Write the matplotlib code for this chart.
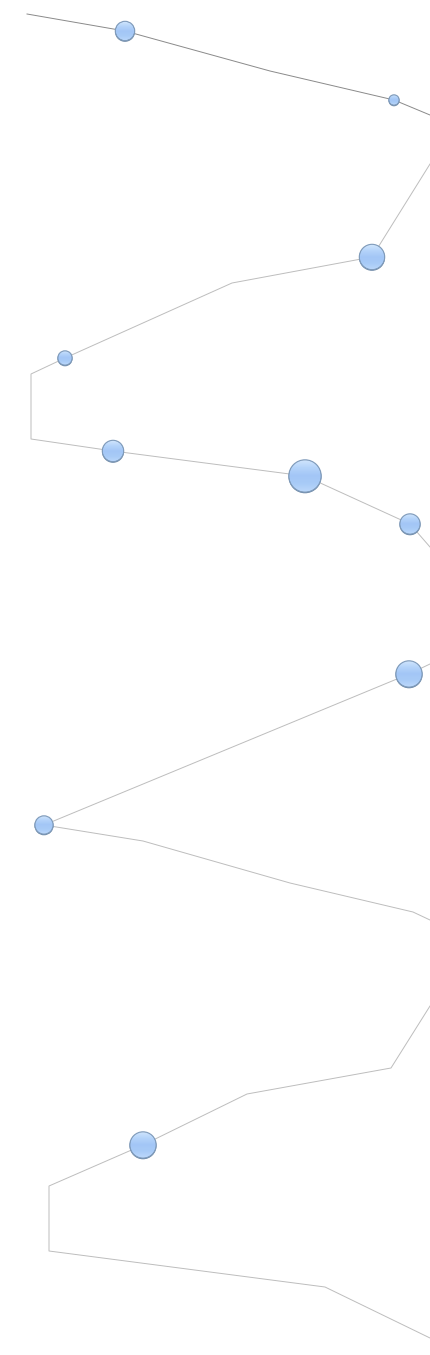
import numpy as np
import matplotlib
matplotlib.use('Agg')
import matplotlib.pyplot as plt
from matplotlib.patches import Circle
from matplotlib.colors import LinearSegmentedColormap

# path pieces of the winding line (x, y in page units, y grows downwards)
seg1_x = [27, 125, 270, 394, 430]
seg1_y = [14, 31, 71, 100, 115]
seg2_x = [430, 372, 232, 65, 31, 31, 113, 305, 410, 430]
seg2_y = [164, 257, 283, 358, 374, 439, 451, 476, 524, 547]
seg3_x = [430, 409, 44, 143, 290, 413, 430]
seg3_y = [664, 674, 825, 841, 883, 912, 920]
seg4_x = [430, 391, 247, 143, 49, 49, 325, 430]
seg4_y = [1006, 1068, 1094, 1145, 1186, 1251, 1287, 1338]

# bubbles sitting on the line
bubble_x = [125, 394, 372, 65, 113, 305, 410, 409, 44, 143]
bubble_y = [31, 100, 257, 358, 451, 476, 524, 674, 825, 1145]
bubble_size = [10, 5.5, 13, 7.5, 11, 16.5, 10.5, 13.5, 9.5, 13.5]

W, H = 430, 1355
fig = plt.figure(figsize=(W / 100, H / 100), dpi=100)
ax = fig.add_axes([0, 0, 1, 1])
ax.axis('off')

ax.plot(seg1_x, seg1_y, color='#8a8a8a', lw=0.7, zorder=1)
for sx, sy in [(seg2_x, seg2_y), (seg3_x, seg3_y), (seg4_x, seg4_y)]:
    ax.plot(sx, sy, color='#bdbdbd', lw=0.7, zorder=1)

cmap = LinearSegmentedColormap.from_list(
    'bub', ['#d3e7fd', '#b5d4fa', '#a3c6f6', '#a8cbf7', '#bcd8fb'])
grad = np.linspace(0, 1, 64).reshape(-1, 1)

for x, y, r in zip(bubble_x, bubble_y, bubble_size):
    shadow = Circle((x, y + 0.8), r, facecolor='#6d87a3', edgecolor='none', zorder=2)
    ax.add_patch(shadow)
    clip = Circle((x, y), r - 0.6, transform=ax.transData)
    im = ax.imshow(grad, cmap=cmap, extent=[x - r, x + r, y + r, y - r],
                   aspect='auto', interpolation='bilinear', zorder=3)
    im.set_clip_path(clip)
    ax.add_patch(Circle((x, y), r - 0.3, facecolor='none', edgecolor='#7f9bbb',
                        lw=0.8, zorder=4))

ax.set_xlim(0, W)
ax.set_ylim(H, 0)
fig.savefig('out.png', dpi=100)
